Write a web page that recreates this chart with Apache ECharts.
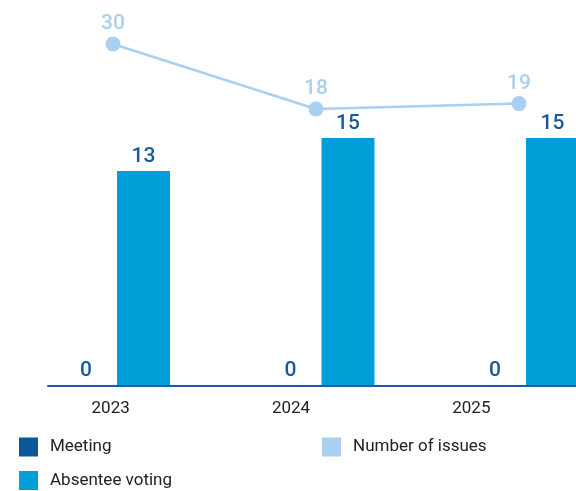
<!DOCTYPE html>
<html>
<head>
<meta charset="utf-8">
<script src="https://cdn.jsdelivr.net/npm/echarts@6/dist/echarts.min.js"></script>
<style>
  html, body { margin: 0; padding: 0; background: #fff; }
  #chart { width: 576px; height: 491px; }
</style>
</head>
<body>
<div id="chart"></div>
<script>
// Years shown on the axis
const years = ['2023', '2024', '2025'];
// Board meetings held in person
const meeting = [0, 0, 0];
// Decisions taken by absentee voting
const absenteeVoting = [13, 15, 15];
// Total number of issues considered
const numberOfIssues = [30, 18, 19];

const FONT = 'Roboto, "Liberation Sans", sans-serif';
const C_MEETING = '#0b579b';
const C_ABSENTEE = '#009fda';
const C_ISSUES = '#a9cff1';
const C_LABEL = '#17599a';
const C_TEXT = '#222222';

const chart = echarts.init(document.getElementById('chart'), null, { renderer: 'canvas' });

function legendItem(name, left, top) {
  return {
    data: [name], left: left, top: top, padding: 0,
    itemWidth: 19, itemHeight: 19, icon: 'rect',
    textStyle: { color: C_TEXT, fontFamily: FONT, fontSize: 17, padding: [0, 0, 0, 7] }
  };
}

const valueLabel = (color) => ({
  show: true, position: 'top', color: color,
  fontFamily: FONT, fontSize: 21, fontWeight: 500
});

chart.setOption({
  animation: false,
  backgroundColor: '#ffffff',
  grid: [
    // bars
    { left: 12.5, width: 613.5, top: 55.6, bottom: 106, outerBoundsMode: 'none' },
    // issues line
    { left: 11.5, width: 609, top: 44, bottom: 284.4, outerBoundsMode: 'none' },
    // year labels
    { left: 20.5, width: 541, top: 55.6, bottom: 106, outerBoundsMode: 'none' },
    // baseline
    { left: 48, right: 0, top: 55.6, bottom: 105, outerBoundsMode: 'none' }
  ],
  xAxis: [
    { type: 'category', gridIndex: 0, data: years, show: false },
    { type: 'category', gridIndex: 1, data: years, show: false },
    {
      type: 'category', gridIndex: 2, data: years,
      axisLine: { show: false }, axisTick: { show: false },
      axisLabel: { color: C_TEXT, fontFamily: FONT, fontSize: 17, margin: 15 }
    },
    {
      type: 'category', gridIndex: 3, data: years,
      axisLine: { show: true, lineStyle: { color: '#1a5c9e', width: 2 } },
      axisTick: { show: false }, axisLabel: { show: false }
    }
  ],
  yAxis: [
    { type: 'value', gridIndex: 0, min: 0, max: 20, show: false },
    { type: 'value', gridIndex: 1, min: 0, max: 30, show: false },
    { type: 'value', gridIndex: 2, show: false },
    { type: 'value', gridIndex: 3, show: false }
  ],
  legend: [
    legendItem('Meeting', 19, 437.5),
    legendItem('Absentee voting', 19, 471),
    legendItem('Number of issues', 322, 437.5)
  ],
  series: [
    {
      name: 'Meeting', type: 'bar', xAxisIndex: 0, yAxisIndex: 0,
      data: meeting, barWidth: 53, barGap: '8.5%',
      itemStyle: { color: C_MEETING },
      label: Object.assign(valueLabel(C_LABEL), { distance: 4 })
    },
    {
      name: 'Absentee voting', type: 'bar', xAxisIndex: 0, yAxisIndex: 0,
      data: absenteeVoting, barWidth: 53, barGap: '8.5%',
      itemStyle: { color: C_ABSENTEE },
      label: Object.assign(valueLabel(C_LABEL), { distance: 4 })
    },
    {
      name: 'Number of issues', type: 'line', xAxisIndex: 1, yAxisIndex: 1,
      data: numberOfIssues, symbol: 'circle', symbolSize: 15,
      lineStyle: { color: C_ISSUES, width: 2.5 },
      itemStyle: { color: C_ISSUES },
      label: Object.assign(valueLabel(C_ISSUES), { distance: 2 }),
      z: 3
    }
  ]
});
</script>
</body>
</html>
